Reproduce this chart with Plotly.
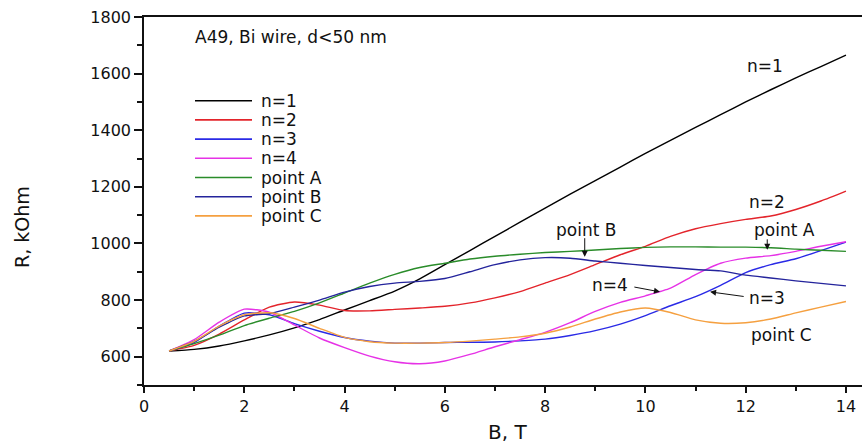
import plotly.graph_objects as go

B = [0.5, 1, 1.5, 2, 2.5, 3, 3.5, 4, 4.5, 5, 5.5, 6, 6.5, 7, 7.5, 8, 8.5, 9, 9.5,
     10, 10.5, 11, 11.5, 12, 12.5, 13, 13.5, 14]

n1 = [620, 626, 638, 656, 677, 702, 731, 765, 798, 832, 875, 925, 975, 1025, 1075, 1125,
      1174, 1222, 1270, 1318, 1364, 1410, 1455, 1500, 1543, 1585, 1625, 1665]
n2 = [620, 640, 680, 730, 775, 793, 782, 763, 762, 767, 772, 778, 790, 808, 830, 860,
      890, 925, 960, 990, 1025, 1052, 1070, 1085, 1097, 1120, 1150, 1185]
n3 = [620, 650, 708, 754, 748, 717, 690, 668, 655, 648, 648, 650, 651, 652, 656, 662,
      675, 692, 715, 745, 780, 812, 852, 897, 925, 946, 975, 1005]
n4 = [620, 660, 722, 768, 757, 712, 666, 632, 602, 582, 575, 585, 608, 635, 660, 686,
      720, 760, 792, 815, 842, 890, 930, 948, 957, 972, 990, 1006]
pA = [620, 646, 676, 710, 736, 760, 790, 825, 860, 891, 915, 930, 945, 955, 962, 968,
      972, 977, 982, 986, 988, 988, 987, 987, 985, 980, 976, 972]
pB = [620, 654, 704, 744, 752, 775, 800, 828, 848, 860, 866, 876, 900, 925, 942, 950,
      948, 938, 930, 922, 915, 908, 903, 888, 878, 868, 859, 850]
pC = [620, 654, 708, 748, 755, 735, 700, 668, 653, 648, 648, 650, 655, 662, 670, 683,
      705, 733, 758, 772, 756, 730, 718, 720, 733, 755, 775, 795]

names = ["n=1", "n=2", "n=3", "n=4", "point A", "point B", "point C"]
colors = ["#000000", "#e3242b", "#2a2ae6", "#e632e6", "#2a8c2a", "#24249c", "#f5a040"]
series = [n1, n2, n3, n4, pA, pB, pC]

title_text = "A49, Bi wire, d<50 nm"
labels = [  # (text, B, R)
    ("n=1", 12.39, 1626),
    ("n=2", 12.43, 1148),
    ("point A", 12.78, 1049),
    ("point B", 8.81, 1049),
    ("n=4", 9.29, 854),
    ("n=3", 12.42, 808),
    ("point C", 12.72, 677),
]
arrows = [  # (tip B, tip R, tail B, tail R)
    (8.79, 953, 8.79, 1024),
    (12.43, 978, 12.43, 1020),
    (10.29, 829, 9.75, 847),
    (11.29, 829, 11.99, 812),
]

FONT = "DejaVu Sans"
W, H = 862, 447
L, R, T, BOT = 144, 0, 17, 62
PW, PH = W - L - R, H - T - BOT


def px(xp):
    return (xp - L) / PW


def py(yp):
    return (H - BOT - yp) / PH


fig = go.Figure()
for name, col, ys in zip(names, colors, series):
    fig.add_trace(go.Scatter(x=B, y=ys, mode="lines", name=name,
                             line=dict(color=col, width=1.4, shape="spline", smoothing=0.6),
                             showlegend=False))

annotations = []
shapes = []
annotations.append(dict(x=0.98, y=1728, xref="x", yref="y", text=title_text, showarrow=False,
                        xanchor="left", yanchor="middle", font=dict(family=FONT, size=17, color="#111")))
for t, bx, ry in labels:
    annotations.append(dict(x=bx, y=ry, xref="x", yref="y", text=t, showarrow=False,
                            xanchor="center", yanchor="middle",
                            font=dict(family=FONT, size=17, color="#111")))
for tx, ty, ax, ay in arrows:
    annotations.append(dict(x=tx, y=ty, ax=ax, ay=ay, xref="x", yref="y", axref="x", ayref="y",
                            text="", showarrow=True, arrowhead=2, arrowsize=1.2, arrowwidth=1,
                            arrowcolor="#111"))

# manual legend
for i, (name, col) in enumerate(zip(names, colors)):
    yp = 100.7 + i * 19.2
    shapes.append(dict(type="line", xref="paper", yref="paper", x0=px(195), x1=px(252),
                       y0=py(yp), y1=py(yp), line=dict(color=col, width=1.6)))
    annotations.append(dict(x=px(259), y=py(yp), xref="paper", yref="paper", text=name,
                            showarrow=False, xanchor="left", yanchor="middle",
                            font=dict(family=FONT, size=17, color="#111")))

# axis titles
annotations.append(dict(x=px(507), y=py(432), xref="paper", yref="paper", text="B, T",
                        showarrow=False, xanchor="center", yanchor="middle",
                        font=dict(family=FONT, size=20, color="#111")))
annotations.append(dict(x=px(22), y=py(227), xref="paper", yref="paper", text="R, kOhm",
                        showarrow=False, xanchor="center", yanchor="middle", textangle=-90,
                        font=dict(family=FONT, size=19, color="#111")))

fig.update_layout(
    width=W, height=H,
    margin=dict(l=L, r=R, t=T, b=BOT),
    paper_bgcolor="white", plot_bgcolor="white",
    annotations=annotations, shapes=shapes,
    xaxis=dict(range=[0, (W - L) / 50.14], tick0=0, dtick=2, showgrid=False, zeroline=False,
               showline=True, linecolor="#111", linewidth=1.5, mirror=True,
               ticks="outside", ticklen=6, tickwidth=1.5, tickcolor="#111",
               tickfont=dict(family=FONT, size=16, color="#111"),
               minor=dict(dtick=1, tick0=0, ticks="outside", ticklen=4, tickwidth=1.5, tickcolor="#111")),
    yaxis=dict(range=[500, 1800], showgrid=False, zeroline=False,
               showline=True, linecolor="#111", linewidth=1.5,
               ticks="outside", ticklen=8, tickwidth=1.5, tickcolor="#111",
               tickvals=[600, 800, 1000, 1200, 1400, 1600, 1800],
               tickfont=dict(family=FONT, size=16, color="#111"),
               minor=dict(dtick=100, tick0=500, ticks="outside", ticklen=5, tickwidth=1.5, tickcolor="#111")),
)

fig.write_html("out.html")
